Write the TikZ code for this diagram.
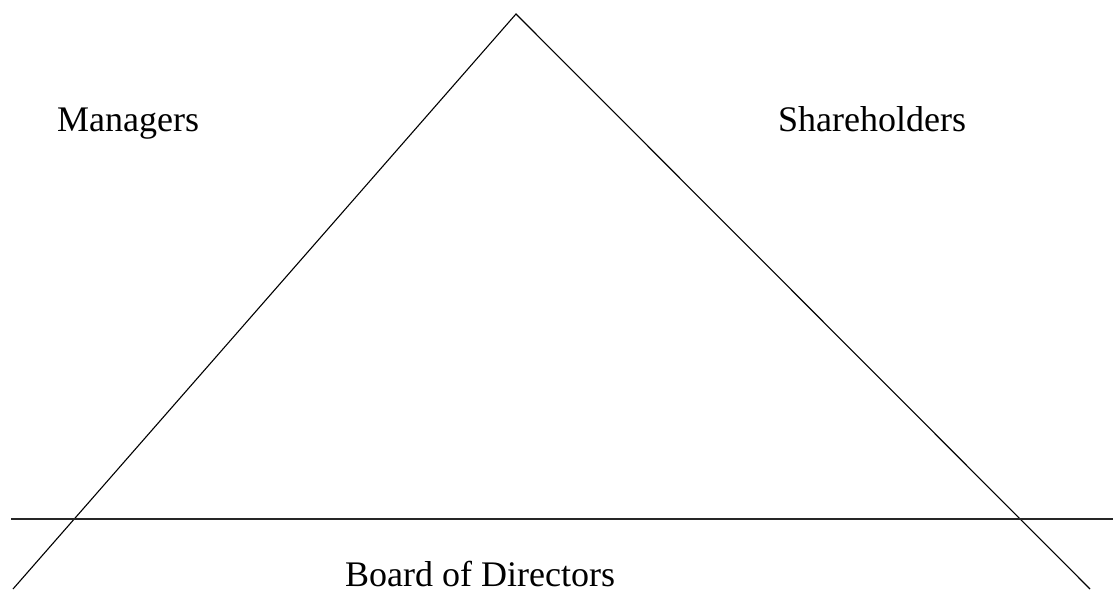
\documentclass[tikz,border=0pt]{standalone}
\usepackage{fontspec}
\setmainfont{Liberation Serif}
\begin{document}
\begin{tikzpicture}[x=1pt,y=-1pt,
  edge/.style={line width=1.1pt,black},
  divider/.style={line width=1.5pt,black!85},
  label/.style={inner sep=0pt,anchor=base west,font=\fontsize{36}{40}\selectfont}]
  \useasboundingbox (0,0) rectangle (1113,589);
  % triangle sides meeting at the apex
  \coordinate (apex) at (516,14);
  \coordinate (leftfoot) at (13,589);
  \coordinate (rightfoot) at (1090,589);
  \draw[edge] (leftfoot) -- (apex) -- (rightfoot);
  % horizontal divider
  \coordinate (divl) at (11,519);
  \coordinate (divr) at (1113,519);
  \draw[divider] (divl) -- (divr);
  % labels
  \node[label] (managers) at (57,131) {Managers};
  \node[label] (shareholders) at (778,131) {Shareholders};
  \node[label] (board) at (345,586) {Board of Directors};
\end{tikzpicture}
\end{document}
